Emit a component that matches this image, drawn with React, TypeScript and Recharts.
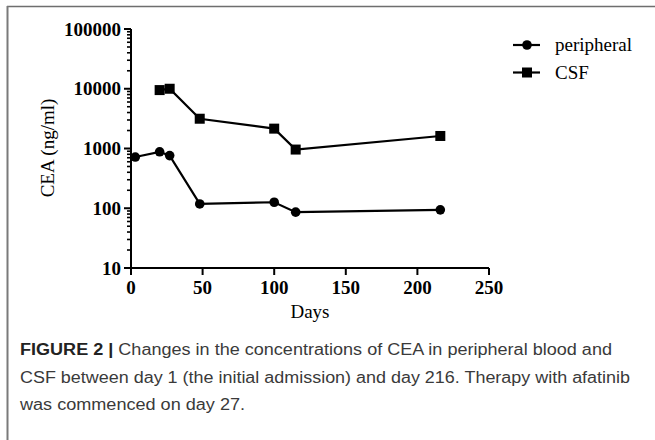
import React from 'react';
import { LineChart, Line, XAxis, YAxis } from 'recharts';

const peripheralDays = [3, 20, 27, 48, 100, 115, 216];
const peripheralValues = [720, 880, 760, 118, 126, 86, 94];
const csfDays = [20, 27, 48, 100, 115, 216];
const csfValues = [9500, 10000, 3150, 2150, 960, 1620];
const xTicks = [0, 50, 100, 150, 200, 250];
const yMajorTicks = [10, 100, 1000, 10000, 100000];
const yMinorMultipliers = [2, 3, 4, 5, 6, 7, 8, 9];
const seriesNames = ['peripheral', 'CSF'];

const peripheralData = peripheralDays.map((d, i) => ({ day: d, v: peripheralValues[i] }));
const csfData = csfDays.map((d, i) => ({ day: d, v: csfValues[i] }));
const yTicks: number[] = [];
yMajorTicks.forEach((m, i) => {
  yTicks.push(m);
  if (i < yMajorTicks.length - 1) yMinorMultipliers.forEach((k) => yTicks.push(m * k));
});

const SERIF = '"Liberation Serif", "Times New Roman", serif';
const SANS = '"Liberation Sans", Arial, sans-serif';

const CircleDot = (p: any) => {
  const { cx, cy } = p;
  if (cx == null || cy == null) return null;
  return <circle key={`c${cx}`} cx={cx} cy={cy} r={4.8} fill="#000" />;
};
const SquareDot = (p: any) => {
  const { cx, cy } = p;
  if (cx == null || cy == null) return null;
  return <rect key={`s${cx}`} x={cx - 5} y={cy - 5} width={10} height={10} fill="#000" />;
};

const YTick = (props: any) => {
  const { x, y, payload } = props;
  const v = payload.value;
  const major = yMajorTicks.includes(v);
  return (
    <g>
      <line x1={x - (major ? 7 : 4)} x2={x} y1={y} y2={y} stroke="#000" strokeWidth={major ? 2 : 1.6} />
      {major && (
        <text x={x - 10} y={y} dy="0.35em" textAnchor="end" fontFamily={SERIF} fontWeight="bold" fontSize={19} fill="#000">
          {v}
        </text>
      )}
    </g>
  );
};

const XTick = (props: any) => {
  const { x, y, payload } = props;
  return (
    <g>
      <line x1={x} x2={x} y1={y} y2={y + 7} stroke="#000" strokeWidth={2} />
      <text x={x} y={y + 26} textAnchor="middle" fontFamily={SERIF} fontWeight="bold" fontSize={19} fill="#000">
        {payload.value}
      </text>
    </g>
  );
};

const YLabel = () => (
  <text x={47} y={148} transform="rotate(-90 47 148)" textAnchor="middle" dy="0.35em" fontFamily={SERIF} fontSize={19} fill="#000">
    CEA (ng/ml)
  </text>
);

const XLabel = () => (
  <text x={310} y={318} textAnchor="middle" fontFamily={SERIF} fontSize={19} fill="#000">
    Days
  </text>
);

export default function App() {
  return (
    <div style={{ position: 'absolute', left: 0, top: 0, width: 655, height: 440, background: '#fff', overflow: 'hidden' }}>
      <LineChart width={655} height={440} margin={{ top: 29, right: 166, bottom: 112, left: 0 }}>
        <XAxis
          type="number"
          dataKey="day"
          domain={[0, 250]}
          ticks={xTicks}
          interval={0}
          height={60}
          tickSize={0}
          tickMargin={0}
          tickLine={false}
          axisLine={{ stroke: '#000', strokeWidth: 2 }}
          tick={<XTick />}
          label={<XLabel />}
          allowDuplicatedCategory={false}
        />
        <YAxis
          type="number"
          scale="log"
          domain={[10, 100000]}
          ticks={yTicks}
          interval={0}
          width={131}
          tickSize={0}
          tickMargin={0}
          tickLine={false}
          axisLine={{ stroke: '#000', strokeWidth: 2 }}
          tick={<YTick />}
          label={<YLabel />}
          allowDataOverflow
        />
        <Line data={peripheralData} dataKey="v" name="peripheral" stroke="#000" strokeWidth={2.2} dot={<CircleDot />} activeDot={false} isAnimationActive={false} />
        <Line data={csfData} dataKey="v" name="CSF" stroke="#000" strokeWidth={2.2} dot={<SquareDot />} activeDot={false} isAnimationActive={false} />
      </LineChart>
      <svg width={655} height={440} style={{ position: 'absolute', left: 0, top: 0, pointerEvents: 'none' }}>
        <line x1={7} x2={655} y1={6.5} y2={6.5} stroke="#6e6e6e" strokeWidth={1.6} />
        <line x1={7.5} x2={7.5} y1={6} y2={440} stroke="#7a7a7a" strokeWidth={2} />
        {seriesNames.map((n, i) => {
          const cy = 45 + i * 27.5;
          return (
            <g key={n}>
              <line x1={513} x2={540} y1={cy} y2={cy} stroke="#000" strokeWidth={2.2} />
              {i === 0 ? <circle cx={527} cy={cy} r={4.8} fill="#000" /> : <rect x={522} y={cy - 5} width={10} height={10} fill="#000" />}
              <text x={555} y={cy} dy="0.33em" fontFamily={SERIF} fontSize={19} fill="#000">{n}</text>
            </g>
          );
        })}
        <text x={20} y={355} fontFamily={SANS} fontSize={16} fill="#3a3a3a" textLength={592} lengthAdjust="spacingAndGlyphs">
          <tspan fontWeight="bold" fill="#222">FIGURE 2 |</tspan> Changes in the concentrations of CEA in peripheral blood and
        </text>
        <text x={20} y={382.5} fontFamily={SANS} fontSize={16} fill="#3a3a3a" textLength={610} lengthAdjust="spacingAndGlyphs">
          CSF between day 1 (the initial admission) and day 216. Therapy with afatinib
        </text>
        <text x={20} y={409.5} fontFamily={SANS} fontSize={16} fill="#3a3a3a" textLength={225} lengthAdjust="spacingAndGlyphs">
          was commenced on day 27.
        </text>
      </svg>
    </div>
  );
}
